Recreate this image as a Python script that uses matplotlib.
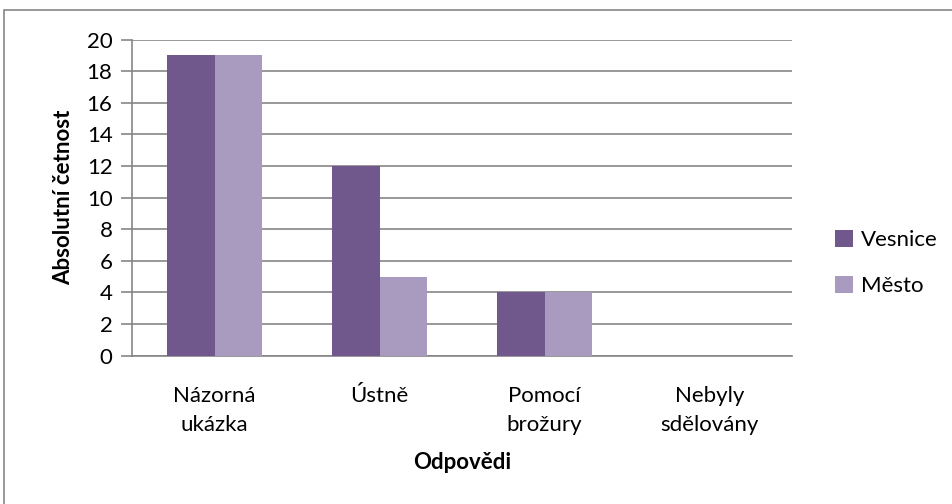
import matplotlib
matplotlib.use("Agg")
import matplotlib.pyplot as plt
from matplotlib.patches import Rectangle
import numpy as np

categories = ["Názorná\nukázka", "Ústně", "Pomocí\nbrožury", "Nebyly\nsdělovány"]
vesnice = [19, 12, 4, 0]
mesto = [19, 5, 4, 0]
series_names = ["Vesnice", "Město"]
yticks = [0, 2, 4, 6, 8, 10, 12, 14, 16, 18, 20]

plt.rcParams['font.family'] = ['Lato', 'DejaVu Sans']

W, H = 953, 504
fig = plt.figure(figsize=(W / 100, H / 100), dpi=100)
fig.patch.set_facecolor('white')

# outer chart border
fig.add_artist(Rectangle((4 / W, -0.01), 1.02, (H - 10) / H + 0.01, transform=fig.transFigure,
                         fill=False, edgecolor='#868686', linewidth=1.2))

x0, x1 = 132, 792
y_top, y_bot = 39.5, 355.5
ax = fig.add_axes([x0 / W, 1 - y_bot / H, (x1 - x0) / W, (y_bot - y_top) / H])

x = np.arange(len(categories))
bw = 1 / 3.5
ax.bar(x - bw / 2, vesnice, bw, color='#70588C', label=series_names[0], zorder=3)
ax.bar(x + bw / 2, mesto, bw, color='#A99ABF', label=series_names[1], zorder=3)

ax.set_xlim(-0.5, len(categories) - 0.5)
ax.set_ylim(0, 20)
ax.set_yticks(yticks)
ax.yaxis.grid(True, color='#868686', linewidth=1.2, zorder=0)
ax.set_axisbelow(True)

for s in ['top', 'right']:
    ax.spines[s].set_visible(False)
for s in ['left', 'bottom']:
    ax.spines[s].set_color('#868686')
    ax.spines[s].set_linewidth(1.2)

FS = 16
ax.tick_params(axis='y', length=8, color='#868686', width=1.2, labelsize=FS, pad=6)
ax.tick_params(axis='x', length=0, labelsize=FS, pad=22)
ax.set_xticks(x)
ax.set_xticklabels(categories, linespacing=1.55)

ax.set_ylabel("Absolutní četnost", fontsize=FS, fontweight='bold', labelpad=9)
ax.set_xlabel("Odpovědi", fontsize=FS, fontweight='bold', labelpad=12)

leg = fig.legend(*ax.get_legend_handles_labels(), loc='center left',
                 bbox_to_anchor=(835 / W, 1 - 263 / H), bbox_transform=fig.transFigure,
                 frameon=False, fontsize=FS, borderpad=0, borderaxespad=0,
                 handlelength=0.8, handleheight=0.8, handletextpad=0.35, labelspacing=1.15)

fig.savefig("out.png", dpi=100, facecolor='white')
